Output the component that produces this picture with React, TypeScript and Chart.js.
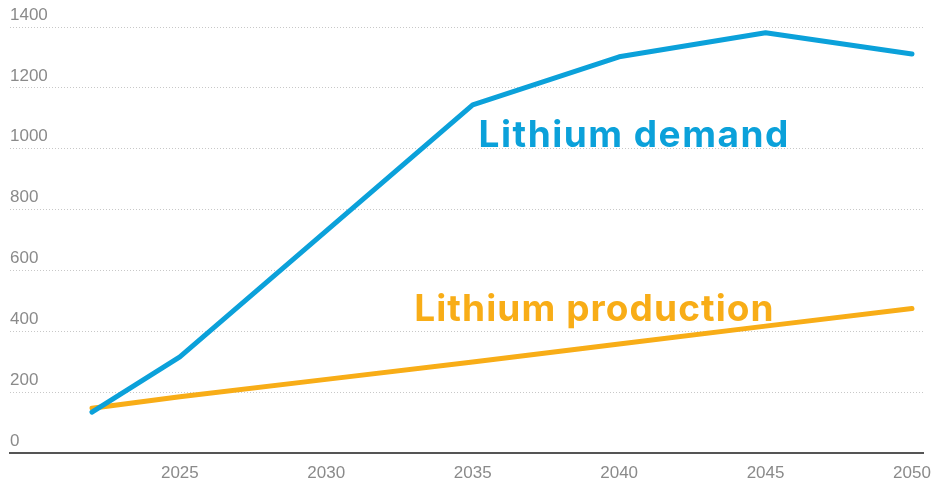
import React, { useEffect, useRef } from "react";
import { Chart, registerables } from "chart.js";

Chart.register(...registerables);

const years = [2022, 2025, 2030, 2035, 2040, 2045, 2050];
const demand = [134, 316, 730, 1144, 1302, 1381, 1311];
const production = [147, 185, 242, 299, 358, 417, 475];
const xTicks = [2025, 2030, 2035, 2040, 2045, 2050];
const yTicks = [0, 200, 400, 600, 800, 1000, 1200, 1400];
const demandLabel = "Lithium demand";
const productionLabel = "Lithium production";

const BLUE = "#0ba1da";
const ORANGE = "#f8ad17";
const TICK_FONT = "'Liberation Sans Narrow', 'Liberation Sans', Arial, sans-serif";

const labelPlugin = {
  id: "seriesLabels",
  afterDatasetsDraw(chart: any) {
    const { ctx, scales } = chart;
    const x = scales.x;
    const y = scales.y;
    ctx.save();
    ctx.font = "700 37px Inter, 'Open Sans', sans-serif";
    ctx.textBaseline = "alphabetic";
    ctx.textAlign = "left";
    (ctx as any).letterSpacing = "1.5px";
    ctx.fillStyle = BLUE;
    ctx.fillText(demandLabel, x.getPixelForValue(2035.2), y.getPixelForValue(1007));
    (ctx as any).letterSpacing = "1.1px";
    ctx.fillStyle = ORANGE;
    ctx.fillText(productionLabel, x.getPixelForValue(2033.0), y.getPixelForValue(434));
    ctx.restore();
  },
};

export default function App() {
  const ref = useRef<HTMLCanvasElement | null>(null);
  useEffect(() => {
    if (!ref.current) return;
    const chart = new Chart(ref.current, {
      type: "line",
      data: {
        datasets: [
          {
            label: demandLabel,
            data: years.map((yr, i) => ({ x: yr, y: demand[i] })),
            borderColor: BLUE,
            borderWidth: 5,
            pointRadius: 0,
            tension: 0,
            borderJoinStyle: "round",
            borderCapStyle: "round",
          },
          {
            label: productionLabel,
            data: years.map((yr, i) => ({ x: yr, y: production[i] })),
            borderColor: ORANGE,
            borderWidth: 5,
            pointRadius: 0,
            tension: 0,
            borderJoinStyle: "round",
            borderCapStyle: "round",
          },
        ],
      },
      options: {
        responsive: false,
        animation: false,
        layout: { padding: { left: 10, right: 9, top: 27, bottom: 4 } },
        plugins: { legend: { display: false }, tooltip: { enabled: false } },
        scales: {
          x: {
            type: "linear",
            min: 2019.2,
            max: 2050.39,
            afterBuildTicks: (s: any) => {
              s.ticks = xTicks.map((v) => ({ value: v }));
            },
            afterFit: (s: any) => {
              s.height = 28;
            },
            grid: { display: false, drawTicks: false },
            border: { display: true, color: "#555", width: 2 },
            ticks: {
              color: "#8a8a8a",
              font: { family: TICK_FONT, size: 17 },
              padding: 10,
              maxRotation: 0,
              autoSkip: false,
              callback: (v: any) => String(v),
            },
          },
          y: {
            min: 0,
            max: 1400,
            afterBuildTicks: (s: any) => {
              s.ticks = yTicks.map((v) => ({ value: v }));
            },
            grid: {
              color: "#c8c8c8",
              lineWidth: 1,
              drawTicks: false,
            },
            border: { display: false, dash: [1, 2] },
            ticks: {
              mirror: true,
              padding: 0,
              labelOffset: -12,
              color: "#8a8a8a",
              font: { family: TICK_FONT, size: 17 },
              callback: (v: any) => String(v),
            },
          },
        },
      },
      plugins: [labelPlugin],
    } as any);
    return () => chart.destroy();
  }, []);
  return (
    <div style={{ position: "fixed", left: 0, top: 0, width: 941, height: 485, background: "#fff" }}>
      <canvas ref={ref} width={941} height={485} />
    </div>
  );
}
